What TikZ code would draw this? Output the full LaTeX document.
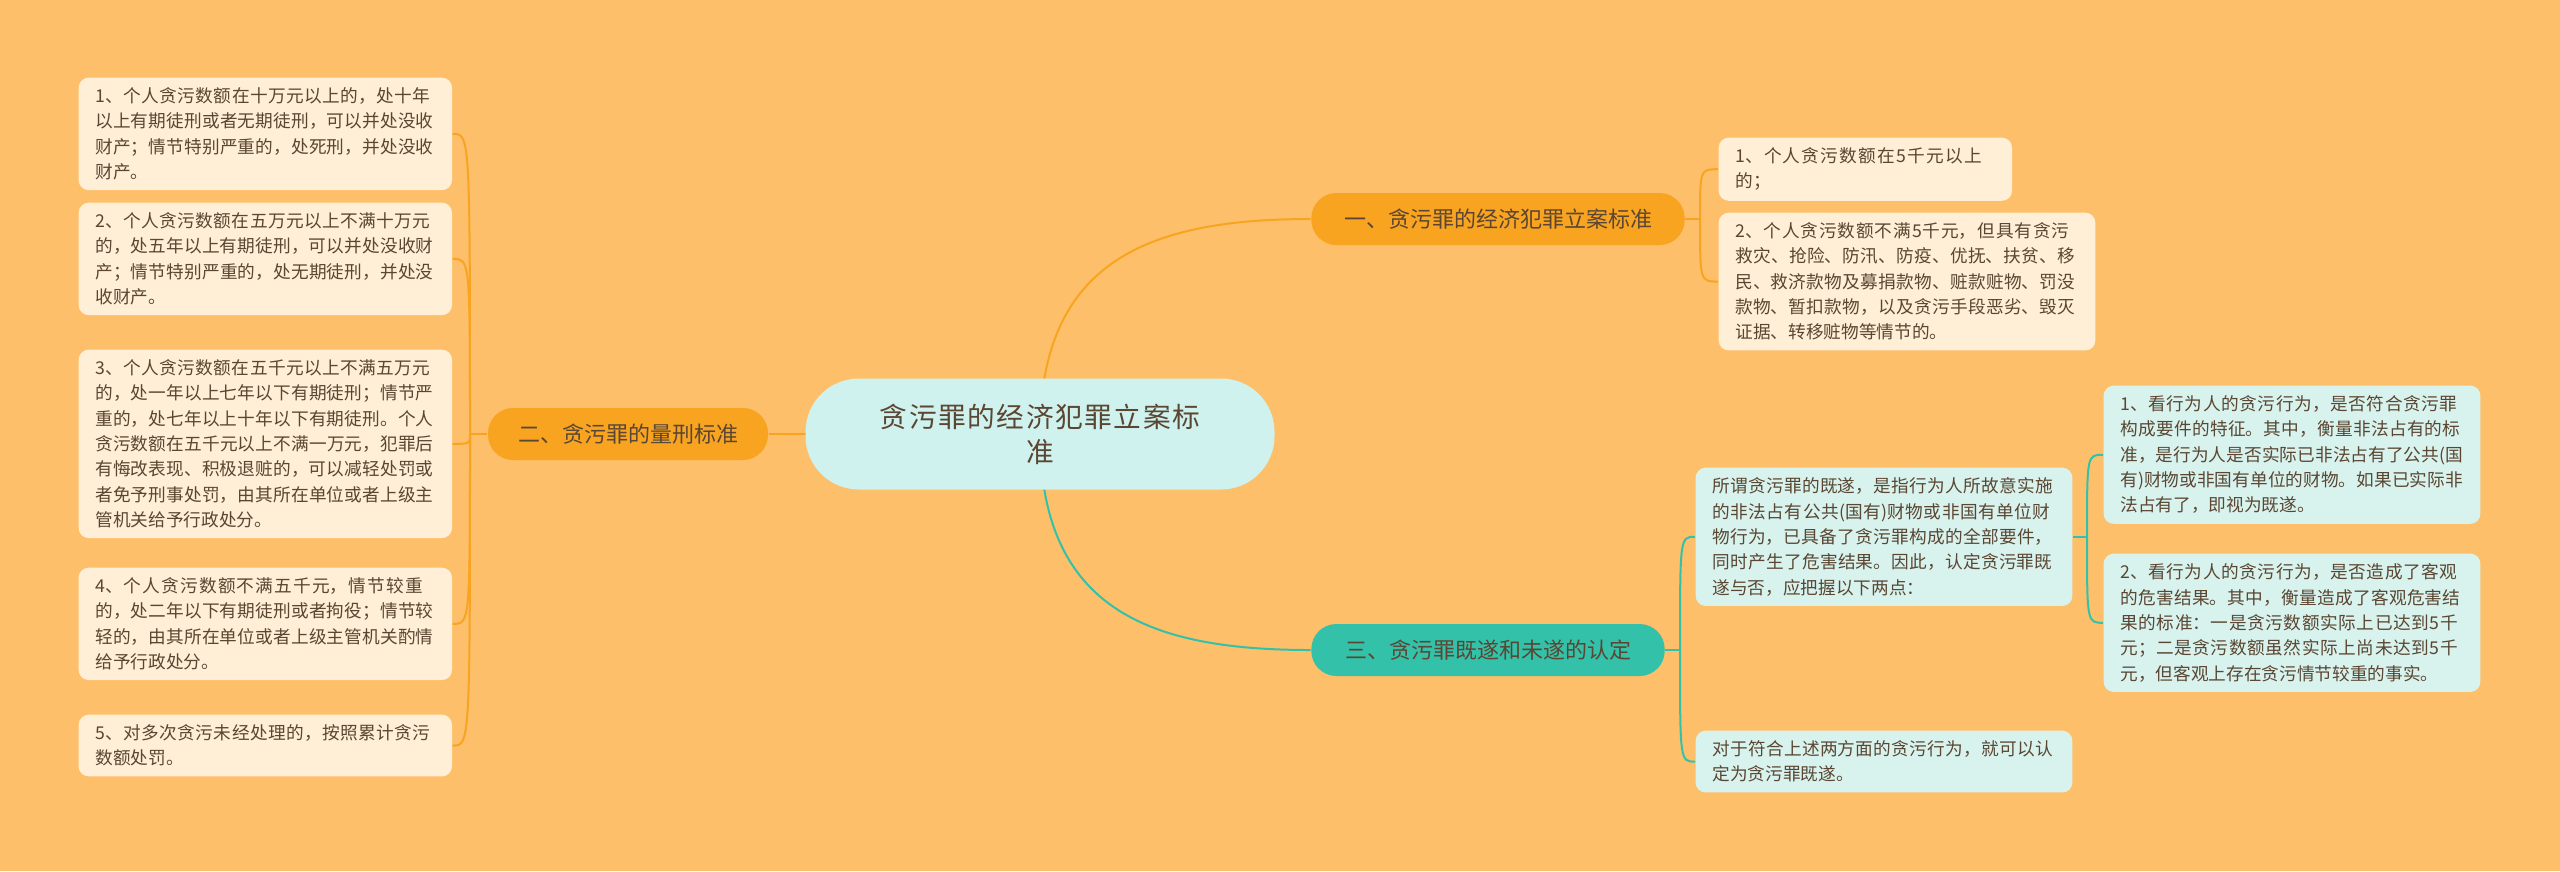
\documentclass[tikz,border=0pt]{standalone}
\usetikzlibrary{backgrounds}
\usepackage{fontspec}
\setmainfont{Noto Sans CJK SC}
\XeTeXlinebreaklocale "zh"
\XeTeXlinebreakskip=0pt plus 1pt
\definecolor{bg}{HTML}{FEBF6A}
\definecolor{cream}{HTML}{FFEFD6}
\definecolor{org}{HTML}{F8A421}
\definecolor{teal}{HTML}{33C1AA}
\definecolor{lteal}{HTML}{D8F3EE}
\definecolor{ctr}{HTML}{CFF2EE}
\definecolor{txt}{HTML}{5A4632}
\tikzset{
  leaf/.style={fill=cream,rounded corners=3pt,anchor=north west,align=left,font=\fontsize{5.3}{7.6}\selectfont,text=txt,inner xsep=5pt,inner ysep=3pt},
  tleaf/.style={leaf,fill=lteal},
  branch/.style={fill=org,rounded corners=7.5pt,font=\fontsize{6.6}{8}\selectfont,text=txt,minimum height=15.6pt,inner xsep=6pt},
  tbranch/.style={branch,fill=teal},
  ol/.style={draw=org,line width=0.6pt},
  tl/.style={draw=teal,line width=0.6pt}
}
\begin{document}
\begin{tikzpicture}[x=0.3pt,y=-0.3pt]
\useasboundingbox (0,0) rectangle (2560,871);
\node[fill=ctr,rounded corners=16pt,minimum width=140.7pt,minimum height=33.3pt,font=\fontsize{8.3}{10.5}\selectfont,text=txt,align=center,text width=112pt] (c) at (1040,434) {贪污罪的经济犯罪立案标\\准};
\node[branch,minimum width=84pt] (b2) at (628,434) {二、贪污罪的量刑标准};
\node[branch,minimum width=112pt] (b1) at (1498,219) {一、贪污罪的经济犯罪立案标准};
\node[tbranch,minimum width=106pt] (b3) at (1488,650) {三、贪污罪既遂和未遂的认定};
\node[leaf,text width=102pt] (l1) at (78,77) {1、个人贪污数额在十万元以上的，处十年以上有期徒刑或者无期徒刑，可以并处没收财产；情节特别严重的，处死刑，并处没收财产。};
\node[leaf,text width=102pt] (l2) at (78,202) {2、个人贪污数额在五万元以上不满十万元的，处五年以上有期徒刑，可以并处没收财产；情节特别严重的，处无期徒刑，并处没收财产。};
\node[leaf,text width=102pt] (l3) at (78,349) {3、个人贪污数额在五千元以上不满五万元的，处一年以上七年以下有期徒刑；情节严重的，处七年以上十年以下有期徒刑。个人贪污数额在五千元以上不满一万元，犯罪后有悔改表现、积极退赃的，可以减轻处罚或者免予刑事处罚，由其所在单位或者上级主管机关给予行政处分。};
\node[leaf,text width=102pt] (l4) at (78,567) {4、个人贪污数额不满五千元，情节较重的，处二年以下有期徒刑或者拘役；情节较轻的，由其所在单位或者上级主管机关酌情给予行政处分。};
\node[leaf,text width=102pt] (l5) at (78,714) {5、对多次贪污未经处理的，按照累计贪污数额处罚。};
\node[leaf,text width=78pt] (r1) at (1718,137) {1、个人贪污数额在5千元以上的；};
\node[leaf,text width=103pt] (r2) at (1718,212) {2、个人贪污数额不满5千元，但具有贪污救灾、抢险、防汛、防疫、优抚、扶贫、移民、救济款物及募捐款物、赃款赃物、罚没款物、暂扣款物，以及贪污手段恶劣、毁灭证据、转移赃物等情节的。};
\node[tleaf,text width=103pt] (t1) at (1695,467) {所谓贪污罪的既遂，是指行为人所故意实施的非法占有公共(国有)财物或非国有单位财物行为，已具备了贪污罪构成的全部要件，同时产生了危害结果。因此，认定贪污罪既遂与否，应把握以下两点：};
\node[tleaf,text width=103pt] (t2) at (1695,730) {对于符合上述两方面的贪污行为，就可以认定为贪污罪既遂。};
\node[tleaf,text width=103pt] (s1) at (2103,385) {1、看行为人的贪污行为，是否符合贪污罪构成要件的特征。其中，衡量非法占有的标准，是行为人是否实际已非法占有了公共(国有)财物或非国有单位的财物。如果已实际非法占有了，即视为既遂。};
\node[tleaf,text width=103pt] (s2) at (2103,553) {2、看行为人的贪污行为，是否造成了客观的危害结果。其中，衡量造成了客观危害结果的标准：一是贪污数额实际上已达到5千元；二是贪污数额虽然实际上尚未达到5千元，但客观上存在贪污情节较重的事实。};
\begin{scope}[on background layer]
\fill[bg] (0,0) rectangle (2560,871);
\draw[ol] (c.center) -- (b2.east);
\draw[ol] (c.center) .. controls (1040,260) and (1150,219) .. (b1.west);
\draw[tl] (c.center) .. controls (1040,610) and (1150,650) .. (b3.west);
\coordinate (lx) at (470,434);
\draw[ol] (b2.west) -- (lx);
\foreach \n in {l1,l2,l3,l4,l5}{
  \draw[ol] (lx) .. controls (lx |- \n.east) .. (\n.east);
}
\coordinate (rx) at (1700,219);
\draw[ol] (b1.east) -- (rx);
\foreach \n in {r1,r2}{
  \draw[ol] (rx) .. controls (rx |- \n.west) .. (\n.west);
}
\coordinate (tx) at (1680,650);
\draw[tl] (b3.east) -- (tx);
\foreach \n in {t1,t2}{
  \draw[tl] (tx) .. controls (tx |- \n.west) .. (\n.west);
}
\path (t1.east) ++(14,0) coordinate (sx);
\draw[tl] (t1.east) -- (sx);
\foreach \n in {s1,s2}{
  \draw[tl] (sx) .. controls (sx |- \n.west) .. (\n.west);
}
\end{scope}
\end{tikzpicture}
\end{document}
